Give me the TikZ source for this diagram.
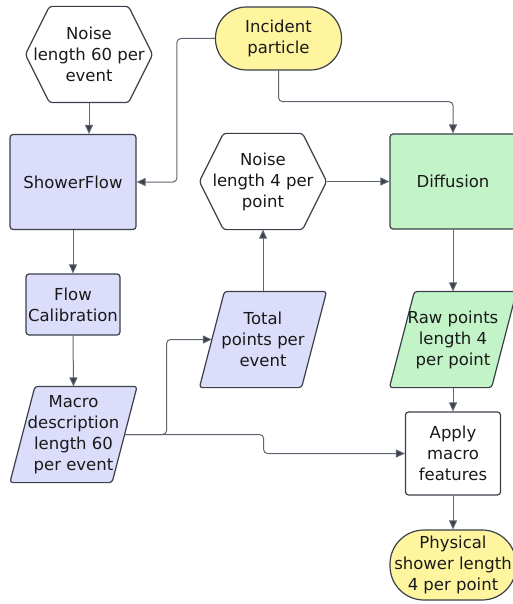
\documentclass[tikz,border=0pt]{standalone}
\usepackage{fontspec}
\setmainfont{DejaVu Sans}
\usepackage{xcolor}
\usetikzlibrary{arrows.meta,backgrounds}

\definecolor{lav}{HTML}{DCDDFB}
\definecolor{mint}{HTML}{C3F4C8}
\definecolor{lemon}{HTML}{FFF59F}
\definecolor{edge}{HTML}{3A3F49}
\definecolor{wire}{HTML}{5F6570}

\tikzset{
  base/.style={draw=edge, line width=1.2pt, align=center, inner sep=1pt,
    text=black!90, font=\fontsize{16.5}{21}\selectfont},
  block/.style={base, rectangle, rounded corners=3pt,
    minimum width=126pt, minimum height=95pt},
  % hexagons and parallelograms: plain text node, outline drawn behind it
  hexa/.style={base, draw=none, rectangle, minimum width=126pt, minimum height=95pt},
  slanted/.style={base, draw=none, rectangle, minimum width=101pt, minimum height=95pt},
  pill/.style={base, rectangle, rounded corners=31pt,
    minimum width=126pt, minimum height=63pt},
  outline/.style={draw=edge, line width=1.2pt, rounded corners=3pt},
  conn/.style={draw=wire, line width=1pt, rounded corners=4pt,
    -{Triangle[length=9pt,width=8pt,fill=edge]}},
}

\begin{document}
\begin{tikzpicture}[x=1pt,y=-1pt]
    \useasboundingbox (0,0) rectangle (512,604);

    % left column
    \node[hexa] (noiseA) at (89,54.5) {Noise\\length 60 per\\event};
    \node[block, fill=lav] (flow) at (73,182) {ShowerFlow};
    \node[block, fill=lav, minimum width=94pt, minimum height=61pt] (calib) at (73,304.5) {Flow\\Calibration};
    \node[slanted] (macro) at (73.5,434.5) {Macro\\description\\length 60\\per event};

    % middle column
    \node[pill, fill=lemon] (inc) at (278.5,38.5) {Incident\\particle};
    \node[hexa] (noiseB) at (263,181.5) {Noise\\length 4 per\\point};
    \node[slanted] (total) at (263,339.5) {Total\\points per\\event};

    % right column
    \node[block, fill=mint] (diff) at (453,181.5) {Diffusion};
    \node[slanted] (raw) at (453,339.5) {Raw points\\length 4\\per point};
    \node[block, minimum width=95pt, minimum height=83pt] (apply) at (453,453.5) {Apply\\macro\\features};
    \node[pill, fill=lemon, minimum height=70pt, rounded corners=34pt] (phys) at (453,565) {Physical\\shower length\\4 per point};

    \begin{pgfonlayer}{background}
        \foreach \n in {noiseA, noiseB}
            \draw[outline, fill=white]
                ([xshift=24pt]\n.north west) -- ([xshift=-24pt]\n.north east) -- (\n.east)
                -- ([xshift=-24pt]\n.south east) -- ([xshift=24pt]\n.south west) -- (\n.west) -- cycle;
        \foreach \n/\c in {macro/lav, total/lav, raw/mint}
            \draw[outline, fill=\c]
                ([xshift=12.5pt]\n.north west) -- ([xshift=12.5pt]\n.north east)
                -- ([xshift=-12.5pt]\n.south east) -- ([xshift=-12.5pt]\n.south west) -- cycle;
    \end{pgfonlayer}

    \draw[conn] (noiseA.south) -- (noiseA.south |- flow.north);
    \draw[conn] (inc.west) -- ++(-38,0) |- (flow.east);
    \draw[conn] (inc.south) -- ++(0,31) -| (diff.north);
    \draw[conn] (flow.south) -- (calib.north);
    \draw[conn] (calib.south) -- (macro.north);
    \draw[conn] (macro.east) -- ++(42,0) |- (total.west);
    \draw[conn] (macro.east) -- ++(139,0) |- (apply.west);
    \draw[conn] (total.north) -- (noiseB.south);
    \draw[conn] (noiseB.east) -- (diff.west);
    \draw[conn] (diff.south) -- (raw.north);
    \draw[conn] (raw.south) -- (apply.north);
    \draw[conn] (apply.south) -- (phys.north);
\end{tikzpicture}
\end{document}
